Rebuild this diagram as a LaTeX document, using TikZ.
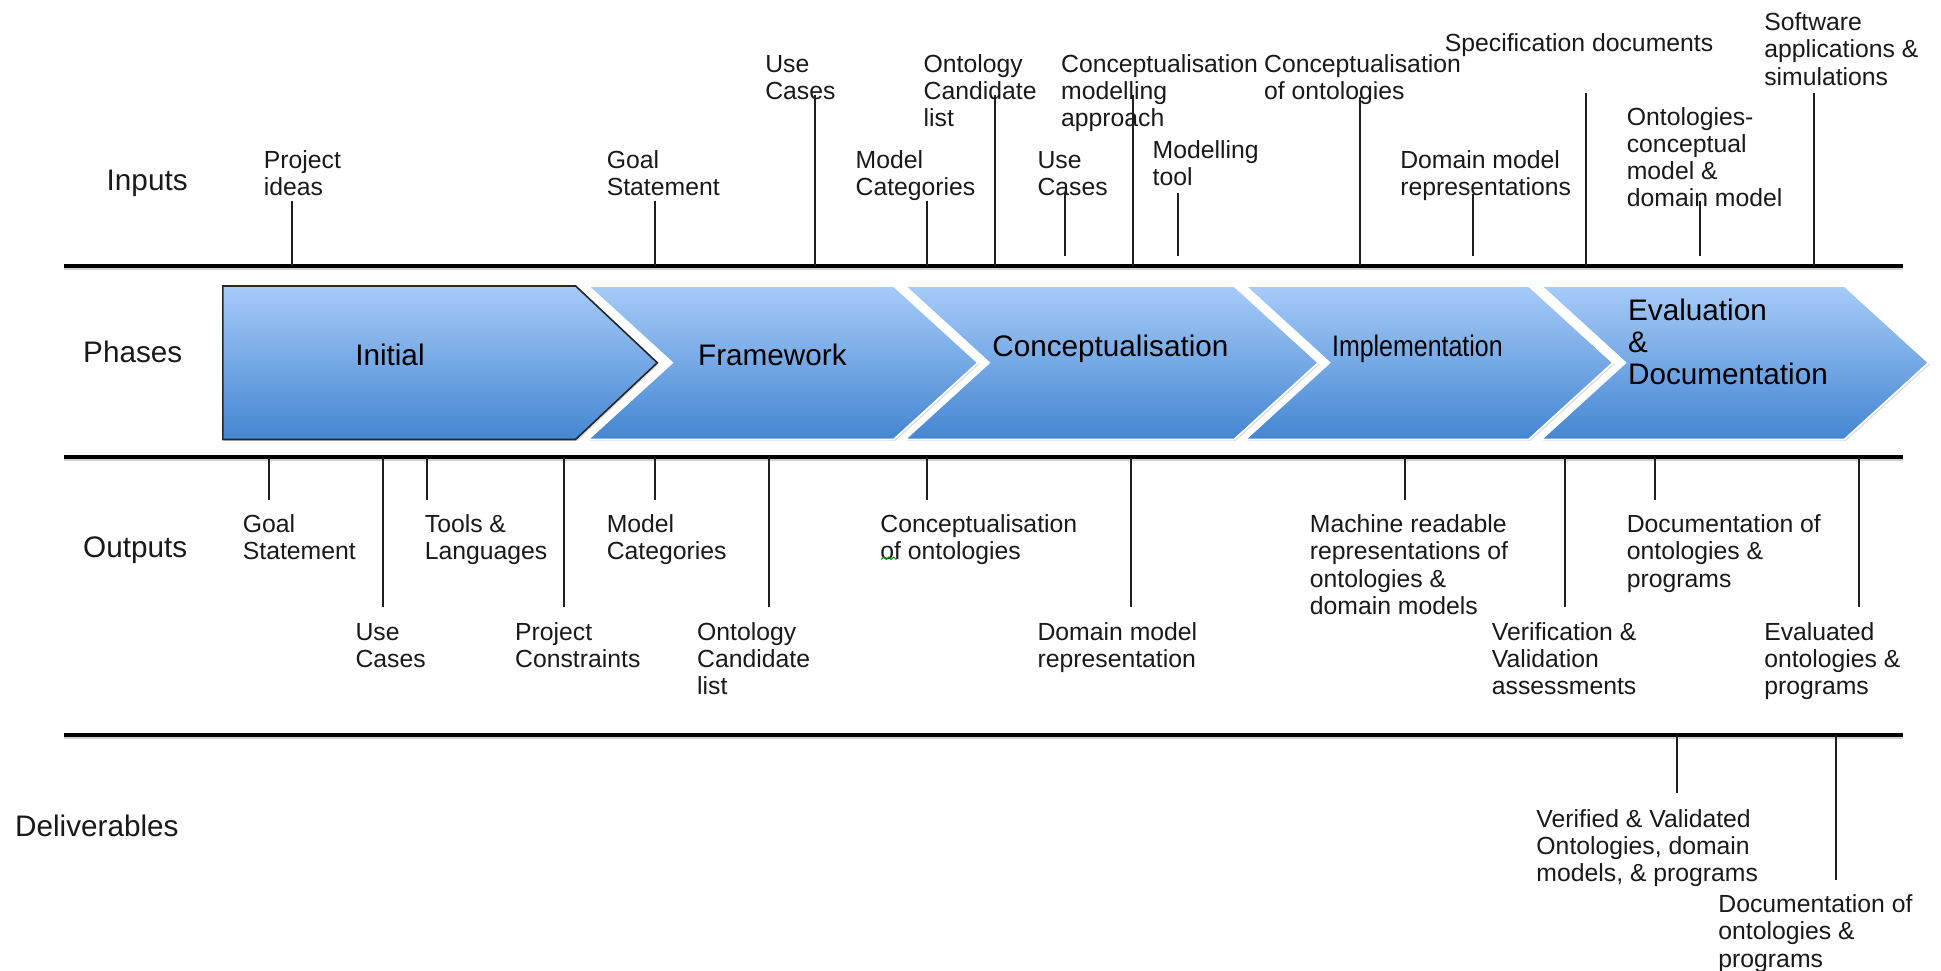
\documentclass[tikz,border=0pt]{standalone}
\usepackage{fontspec}
\setmainfont{Liberation Sans}
\usetikzlibrary{shadows}
\definecolor{cTop}{RGB}{166,203,248}
\definecolor{cBot}{RGB}{68,134,210}
\definecolor{tickc}{RGB}{30,30,30}
\definecolor{txt}{RGB}{25,25,25}
\begin{document}
\begin{tikzpicture}[x=1pt,y=-1pt,
  lbl/.style={anchor=north west, inner sep=0pt, align=left, font=\fontsize{20}{22}\selectfont, text=txt},
  rowlbl/.style={anchor=base west, inner sep=0pt, font=\fontsize{24}{28}\selectfont, text=txt},
  phlbl/.style={anchor=base, inner sep=0pt, font=\fontsize{24}{28}\selectfont, text=black},
  hline/.style={line width=3pt, black},
  hshadow/.style={line width=3pt, black, opacity=0.18},
  tickline/.style={line width=1.6pt, tickc},
  chev/.style={top color=cTop, bottom color=cBot, draw=white, line width=1.4pt,
    drop shadow={shadow xshift=1.2pt, shadow yshift=-1.2pt, opacity=0.3}},
  chevfirst/.style={top color=cTop, bottom color=cBot, draw=black!85, line width=1.3pt,
    drop shadow={shadow xshift=1.2pt, shadow yshift=-1.2pt, opacity=0.3}}]
\useasboundingbox (0,0) rectangle (1568,784);

% row lines
\coordinate (inL) at (52,215);  \coordinate (inR) at (1537,215);
\coordinate (outL) at (52,369); \coordinate (outR) at (1537,369);
\coordinate (delL) at (52,594); \coordinate (delR) at (1537,594);
\foreach \a/\b in {inL/inR,outL/outR,delL/delR}{
  \draw[hshadow] ([yshift=-1.8pt]\a) -- ([yshift=-1.8pt]\b);
  \draw[hline] (\a) -- (\b);
}

% row labels
\node[rowlbl] (rIn) at (86,154) {Inputs};
\node[rowlbl] (rPh) at (67,293) {Phases};
\node[rowlbl] (rOut) at (67,450) {Outputs};
\node[rowlbl] (rDel) at (12,676) {Deliverables};

% chevrons
\path[chev] (1245,231) -- (1490,231) -- (1558,293) -- (1490,355) -- (1245,355) -- (1313,293) -- cycle;
\path[chev] (1006,231) -- (1235,231) -- (1303,293) -- (1235,355) -- (1006,355) -- (1074,293) -- cycle;
\path[chev] (731,231) -- (997,231) -- (1065,293) -- (997,355) -- (731,355) -- (799,293) -- cycle;
\path[chev] (475,231) -- (722,231) -- (790,293) -- (722,355) -- (475,355) -- (543,293) -- cycle;
\path[chevfirst] (180,231) -- (465,231) -- (531,293) -- (465,355) -- (180,355) -- cycle;

\node[phlbl] (pInit) at (315,295) {Initial};
\node[phlbl] (pFrame) at (624,295) {Framework};
\node[phlbl] (pConc) at (897,288) {Conceptualisation};
\node[phlbl] (pImpl) at (1145,288) {\scalebox{0.84}[1]{Implementation}};
\node[anchor=north west, inner sep=0pt, align=left, font=\fontsize{24}{26}\selectfont] (pEval) at (1315,240.5) {\strut Evaluation\\\&\\Documentation};

% input labels
\node[lbl] (i1) at (213,120.6) {\strut Project\\ideas};
\node[lbl] (i2) at (490,120.6) {\strut Goal\\Statement};
\node[lbl] (i3) at (618,42.6) {\strut Use\\Cases};
\node[lbl] (i4) at (691,120.6) {\strut Model\\Categories};
\node[lbl] (i5) at (746,42.6) {\strut Ontology\\Candidate\\list};
\node[lbl] (i6) at (838,120.6) {\strut Use\\Cases};
\node[lbl] (i7) at (857,42.6) {\strut Conceptualisation\\modelling\\approach};
\node[lbl] (i8) at (931,112.6) {\strut Modelling\\tool};
\node[lbl] (i9) at (1021,42.6) {\strut Conceptualisation\\of ontologies};
\node[lbl] (i10) at (1131,120.6) {\strut Domain model\\representations};
\node[lbl] (i11) at (1167,25.6) {\strut Specification documents};
\node[lbl] (i12) at (1314,85.6) {\strut Ontologies-\\conceptual\\model \&\\domain model};
\node[lbl] (i13) at (1425,9.1) {\strut Software\\applications \&\\simulations};

% output labels
\node[lbl] (o1) at (196,414.6) {\strut Goal\\Statement};
\node[lbl] (o2) at (287,501.6) {\strut Use\\Cases};
\node[lbl] (o3) at (343,414.6) {\strut Tools \&\\Languages};
\node[lbl] (o4) at (416,501.6) {\strut Project\\Constraints};
\node[lbl] (o5) at (490,414.6) {\strut Model\\Categories};
\node[lbl] (o6) at (563,501.6) {\strut Ontology\\Candidate\\list};
\node[lbl] (o7) at (711,414.6) {\strut Conceptualisation\\of ontologies};
\node[lbl] (o8) at (838,501.6) {\strut Domain model\\representation};
\node[lbl] (o9) at (1058,414.6) {\strut Machine readable\\representations of\\ontologies \&\\domain models};
\node[lbl] (o10) at (1205,501.6) {\strut Verification \&\\Validation\\assessments};
\node[lbl] (o11) at (1314,414.6) {\strut Documentation of\\ontologies \&\\programs};
\node[lbl] (o12) at (1425,501.6) {\strut Evaluated\\ontologies \&\\programs};

% deliverable labels
\node[lbl] (d1) at (1241,652.6) {\strut Verified \& Validated\\Ontologies, domain\\models, \& programs};
\node[lbl] (d2) at (1388,721.6) {\strut Documentation of\\ontologies \&\\programs};

% spell-check squiggle under "of"
\draw[green!60!black, line width=0.8pt] (712,452) -- (714,450) -- (716,452) -- (718,450) -- (720,452) -- (722,450) -- (724,452);

% ticks
\foreach \n/\x/\ya/\yb in {
  i1/236/162/215, i2/529/162/215, i3/658/77/215, i4/749/162/215,
  i5/804/77/215, i6/860/156/207, i7/915/77/215, i8/952/156/207,
  i9/1099/78/215, i10/1190/157/207, i11/1281/75/215, i12/1373/162/207,
  i13/1465/75/215,
  o1/217/404/369, o2/309/490/369, o3/345/404/369, o4/456/490/369,
  o5/529/404/369, o6/621/490/369, o7/749/404/369, o8/914/490/369,
  o9/1135/404/369, o10/1264/490/369, o11/1337/404/369, o12/1502/490/369,
  d1/1355/641/594, d2/1483/711/594}{
  \coordinate (\n t) at (\x,\ya);
  \coordinate (\n b) at (\x,\yb);
  \draw[tickline] (\n t) -- (\n b);
}
\end{tikzpicture}
\end{document}
